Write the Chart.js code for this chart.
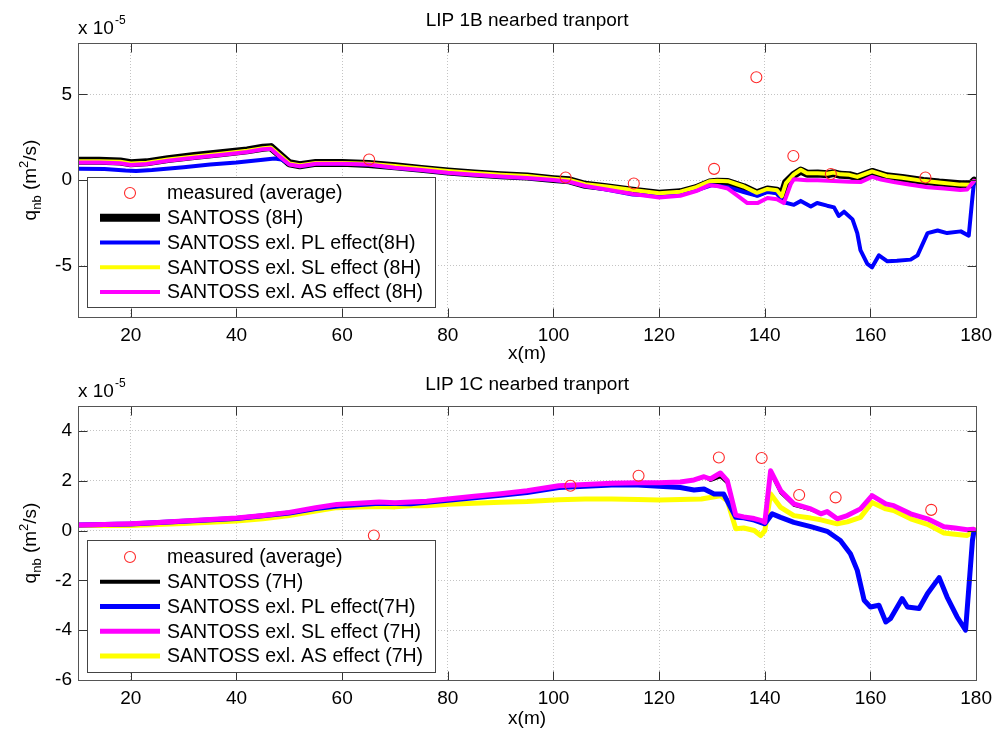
<!DOCTYPE html>
<html>
<head>
<meta charset="utf-8">
<script src="https://cdn.jsdelivr.net/npm/chart.js@4.4.1/dist/chart.umd.min.js"></script>
<style>
  html, body { margin: 0; padding: 0; background: #fff; }
  canvas { position: absolute; left: 0; }
  #lip1b { top: 0; }
  #lip1c { top: 366px; }
</style>
</head>
<body>
<canvas id="lip1b" width="999" height="366"></canvas>
<canvas id="lip1c" width="999" height="367"></canvas>
<script>
// x positions (m) and nearbed transport (x 1e-5 m2/s)
const xTicks = [20, 40, 60, 80, 100, 120, 140, 160, 180];
const yTicks1B = [-5, 0, 5];
const yTicks1C = [-6, -4, -2, 0, 2, 4];

// ---- LIP 1B ----
const meas1BX = [65.1, 102.3, 115.2, 130.4, 138.4, 145.4, 152.5, 170.4];
const meas1BY = [1.2, 0.15, -0.2, 0.65, 6.0, 1.4, 0.35, 0.15];

const full1BX = [10, 14, 18, 20, 23, 27, 32, 37, 42, 45, 46.5, 48, 50, 52, 55, 60, 65, 70, 75, 80,
  85, 90, 95, 100, 103, 106, 110, 115, 120, 124, 127, 129.5, 131, 133, 136, 138.5, 140.5, 142.3, 143.2, 144,
  145.5, 146.8, 148, 150, 151.8, 153, 154.3, 156, 157.5, 160.3, 163, 166, 170, 173, 177, 179, 179.6];
const full1BY = [1.12, 1.12, 1.08, 0.98, 1.03, 1.22, 1.4, 1.56, 1.73, 1.88, 1.92, 1.52, 0.98, 0.86, 1.0, 1.0, 0.94, 0.8, 0.65, 0.5,
  0.38, 0.28, 0.2, 0.05, -0.02, -0.28, -0.42, -0.62, -0.8, -0.72, -0.48, -0.15, -0.1, -0.12, -0.42, -0.78, -0.55, -0.62, -0.95, -0.15,
  0.3, 0.55, 0.37, 0.38, 0.33, 0.4, 0.3, 0.28, 0.15, 0.47, 0.22, 0.12, -0.05, -0.15, -0.25, -0.25, -0.05];
const noSL1BY = [1.1, 1.1, 1.06, 0.96, 1.01, 1.2, 1.38, 1.54, 1.71, 1.86, 1.9, 1.5, 0.97, 0.86, 1.0, 1.0, 0.95, 0.82, 0.67, 0.53,
  0.41, 0.31, 0.23, 0.08, 0.0, -0.25, -0.38, -0.58, -0.78, -0.68, -0.42, -0.08, -0.05, -0.07, -0.38, -0.75, -0.52, -0.6, -0.95, -0.18,
  0.33, 0.6, 0.4, 0.4, 0.36, 0.43, 0.33, 0.3, 0.18, 0.5, 0.24, 0.13, -0.05, -0.15, -0.27, -0.28, -0.05];

const noPL1BX = [10, 15, 19, 21, 24, 30, 35, 40, 45, 47.2, 48.5, 50, 52, 55, 60, 65, 70, 75, 80, 85,
  90, 95, 100, 103, 106, 110, 115, 120, 124, 127, 130, 133, 136, 138.6, 140.5, 142.3, 143.6, 145.5, 146.8, 148.7,
  149.9, 151.8, 153.1, 154, 155, 156.6, 157.5, 158.1, 159.4, 160.3, 161.6, 163.2, 165, 167.6, 168.9, 170.8, 172.7, 174.5, 177.1, 178.6,
  179.3, 179.6];
const noPL1BY = [0.66, 0.64, 0.55, 0.52, 0.58, 0.75, 0.9, 1.02, 1.18, 1.25, 1.2, 0.93, 0.8, 0.95, 0.95, 0.9, 0.72, 0.58, 0.43, 0.3,
  0.2, 0.12, 0.0, -0.1, -0.35, -0.55, -0.85, -0.92, -0.82, -0.6, -0.3, -0.42, -0.7, -0.92, -0.7, -0.78, -1.3, -1.45, -1.22, -1.55,
  -1.34, -1.5, -1.6, -2.1, -1.85, -2.3, -3.1, -4.1, -4.9, -5.1, -4.4, -4.75, -4.72, -4.65, -4.4, -3.1, -2.95, -3.1, -3.0, -3.25,
  -1.0, -0.1];

const noAS1BX = [10, 14, 18, 20, 23, 27, 32, 37, 42, 45, 46.5, 48, 50, 52, 55, 60, 65, 70, 75, 80,
  85, 90, 95, 100, 103, 106, 110, 115, 120, 124, 127, 129.5, 131, 133, 135, 136.7, 138.6, 140.5, 142.3, 143.6,
  144.9, 145.5, 148, 150, 152, 154, 156, 158.1, 160.3, 162, 164.4, 167, 170.8, 174, 177, 178.3, 179.6];
const noAS1BY = [1.02, 1.02, 0.98, 0.88, 0.94, 1.12, 1.3, 1.46, 1.64, 1.8, 1.82, 1.42, 0.9, 0.8, 0.95, 0.95, 0.9, 0.72, 0.58, 0.42,
  0.3, 0.2, 0.12, 0.0, -0.1, -0.35, -0.55, -0.82, -1.02, -0.92, -0.65, -0.3, -0.35, -0.5, -0.95, -1.35, -1.35, -1.05, -1.12, -1.35,
  -0.25, 0.05, -0.02, -0.02, -0.05, -0.08, -0.1, -0.12, 0.18, 0.03, -0.12, -0.25, -0.42, -0.5, -0.58, -0.55, -0.05];

// ---- LIP 1C ----
const meas1CX = [66, 103.2, 116.1, 131.3, 139.4, 146.5, 153.4, 171.5];
const meas1CY = [-0.2, 1.8, 2.2, 2.93, 2.91, 1.43, 1.33, 0.83];

const full1CX = [10, 15, 20, 25, 30, 35, 40, 45, 50, 55, 59, 63, 67, 70, 73, 76, 80, 85, 90, 95,
  101, 106, 111, 116, 120, 124, 126.6, 128.5, 129.7, 131.6, 132.9, 134.5, 136, 138, 139.4, 140, 141.1, 143, 145.5, 148.7,
  150.6, 151.8, 153.7, 155.6, 158.1, 160.3, 162.9, 164.4, 167.6, 170.8, 173.9, 176, 178.3, 179.5];
const full1CY = [0.22, 0.24, 0.27, 0.32, 0.38, 0.44, 0.5, 0.6, 0.73, 0.92, 1.05, 1.1, 1.15, 1.12, 1.15, 1.18, 1.27, 1.38, 1.48, 1.6,
  1.8, 1.85, 1.9, 1.92, 1.92, 1.95, 2.03, 2.16, 2.0, 2.15, 1.9, 0.62, 0.55, 0.48, 0.4, 0.33, 2.3, 1.5, 1.0, 0.82,
  0.67, 0.76, 0.47, 0.6, 0.87, 1.4, 1.07, 1.0, 0.67, 0.47, 0.15, 0.1, 0.03, 0.05];
const noSL1CY = [0.22, 0.24, 0.27, 0.32, 0.38, 0.44, 0.5, 0.6, 0.73, 0.92, 1.05, 1.1, 1.15, 1.12, 1.15, 1.18, 1.27, 1.38, 1.48, 1.6,
  1.8, 1.85, 1.9, 1.92, 1.92, 1.95, 2.03, 2.16, 2.07, 2.31, 2.0, 0.62, 0.55, 0.48, 0.4, 0.33, 2.4, 1.6, 1.07, 0.87,
  0.67, 0.76, 0.47, 0.6, 0.87, 1.4, 1.07, 1.0, 0.67, 0.47, 0.15, 0.1, 0.03, 0.05];

const noPL1CX = [10, 20, 30, 40, 50, 55, 60, 67, 73, 80, 85, 90, 95, 101, 106, 111, 116, 120, 124, 126.6,
  128.5, 130.4, 132.2, 134.5, 136, 138, 139.2, 140, 141.4, 143, 145.5, 148.7, 151.8, 154.3, 156.2, 157.5, 158.8, 160, 161.6, 162.9,
  163.8, 166, 167, 169.2, 170.8, 173, 174.5, 176.4, 178, 179.3, 179.6];
const noPL1CY = [0.22, 0.26, 0.37, 0.48, 0.7, 0.88, 1.0, 1.1, 1.08, 1.22, 1.32, 1.42, 1.53, 1.73, 1.78, 1.83, 1.83, 1.78, 1.73, 1.63,
  1.67, 1.47, 1.47, 0.53, 0.51, 0.42, 0.33, 0.27, 0.67, 0.53, 0.33, 0.16, -0.03, -0.4, -0.93, -1.6, -2.8, -3.07, -3.0, -3.67,
  -3.53, -2.73, -3.07, -3.13, -2.53, -1.89, -2.67, -3.47, -4.0, -0.4, 0.0];

const noAS1CX = [10, 15, 20, 25, 30, 35, 40, 45, 50, 55, 59, 63, 67, 70, 73, 76, 80, 85, 90, 95,
  101, 106, 111, 116, 120, 124, 128, 131.6, 132.9, 134.5, 136, 138, 139.2, 140, 141.1, 143, 145.5, 148.7, 150.6, 153.7,
  155.6, 158.1, 160.3, 162.9, 164.4, 167.6, 170.8, 173.9, 176, 178.3, 179.9];
const noAS1CY = [0.2, 0.2, 0.2, 0.24, 0.28, 0.33, 0.38, 0.47, 0.6, 0.78, 0.92, 0.95, 0.97, 0.95, 1.0, 1.0, 1.06, 1.1, 1.14, 1.17,
  1.24, 1.27, 1.27, 1.25, 1.23, 1.25, 1.27, 1.4, 1.2, 0.07, 0.1, 0.0, -0.2, 0.0, 1.47, 0.93, 0.6, 0.5, 0.43, 0.27,
  0.35, 0.53, 1.13, 0.87, 0.8, 0.47, 0.25, -0.1, -0.15, -0.2, 0.03];

const FONT = '"Liberation Sans", Arial, Helvetica, sans-serif';
Chart.defaults.font.family = FONT;
Chart.defaults.color = '#000';

const pts = (xs, ys) => xs.map((x, i) => ({ x: x, y: ys[i] }));

function lineSet(label, xs, ys, color, width, order) {
  return {
    label: label, data: pts(xs, ys), borderColor: color, backgroundColor: color,
    borderWidth: width, pointRadius: 0, tension: 0, order: order,
    borderJoinStyle: 'round', borderCapStyle: 'round'
  };
}

function markSet(label, xs, ys) {
  return {
    label: label, data: pts(xs, ys), showLine: false, order: 0,
    pointStyle: 'circle', pointRadius: 5.5, pointBorderWidth: 1.1,
    pointBorderColor: '#ff2a2a', pointBackgroundColor: 'rgba(0,0,0,0)', borderColor: '#ff2a2a'
  };
}

// inner ticks on all four sides, frame, boxed legend, exponent and y label
const matlabAxes = {
  id: 'matlabAxes',
  afterDatasetsDraw(chart) {
    const { ctx, chartArea: a, scales: { x, y } } = chart;
    const L = Math.round(a.left) + 0.5, R = Math.round(a.right) + 0.5;
    const T = Math.round(a.top) + 0.5, B = Math.round(a.bottom) + 0.5;
    ctx.save();
    ctx.strokeStyle = '#333';
    ctx.lineWidth = 1;
    ctx.beginPath();
    x.ticks.forEach(t => {
      const px = Math.round(x.getPixelForValue(t.value)) + 0.5;
      ctx.moveTo(px, T); ctx.lineTo(px, T + 9);
      ctx.moveTo(px, B); ctx.lineTo(px, B - 9);
    });
    y.ticks.forEach(t => {
      const py = Math.round(y.getPixelForValue(t.value)) + 0.5;
      ctx.moveTo(L, py); ctx.lineTo(L + 9, py);
      ctx.moveTo(R, py); ctx.lineTo(R - 9, py);
    });
    ctx.stroke();
    ctx.strokeStyle = '#555';
    ctx.strokeRect(L, T, R - L, B - T);
    ctx.restore();
  },
  afterDraw(chart, args, opts) {
    const { ctx, chartArea: a } = chart;
    ctx.save();

    // legend box
    const lg = opts.legend;
    ctx.fillStyle = '#fff';
    ctx.fillRect(lg.x, lg.y, lg.w, lg.h);
    ctx.strokeStyle = '#444';
    ctx.lineWidth = 1;
    ctx.strokeRect(lg.x + 0.5, lg.y + 0.5, lg.w, lg.h);
    ctx.font = '19.5px ' + FONT;
    ctx.textBaseline = 'middle';
    ctx.textAlign = 'left';
    chart.data.datasets.forEach((ds, i) => {
      const cy = lg.y + lg.first + i * lg.step;
      if (ds.showLine === false) {
        ctx.strokeStyle = ds.pointBorderColor;
        ctx.lineWidth = 1.1;
        ctx.beginPath();
        ctx.arc(lg.x + 43, cy, 5.5, 0, Math.PI * 2);
        ctx.stroke();
      } else {
        ctx.strokeStyle = ds.borderColor;
        ctx.lineWidth = ds.legendWidth || ds.borderWidth;
        ctx.lineCap = 'butt';
        ctx.beginPath();
        ctx.moveTo(lg.x + 13, cy);
        ctx.lineTo(lg.x + 73, cy);
        ctx.stroke();
      }
      ctx.fillStyle = '#000';
      ctx.fillText(ds.label, lg.x + 80, cy + 1);
    });

    // x 10^-5 above the y axis
    ctx.fillStyle = '#000';
    ctx.textBaseline = 'alphabetic';
    ctx.font = '19px ' + FONT;
    ctx.fillText('x 10', a.left, a.top - 9);
    const w = ctx.measureText('x 10').width;
    ctx.font = '12px ' + FONT;
    ctx.fillText('-5', a.left + w + 1, a.top - 19);

    // q_nb (m^2/s), rotated
    const parts = [['q', 19, 0], ['nb', 13, 5], [' (m', 19, 0], ['2', 13, -8], ['/s)', 19, 0]];
    let total = 0;
    parts.forEach(p => { ctx.font = p[1] + 'px ' + FONT; total += ctx.measureText(p[0]).width; });
    ctx.translate(36, (a.top + a.bottom) / 2);
    ctx.rotate(-Math.PI / 2);
    let cx = -total / 2;
    parts.forEach(p => {
      ctx.font = p[1] + 'px ' + FONT;
      ctx.fillText(p[0], cx, p[2]);
      cx += ctx.measureText(p[0]).width;
    });
    ctx.restore();
  }
};

function makeChart(id, cfg) {
  const canvas = document.getElementById(id);
  const H = canvas.height;
  return new Chart(canvas, {
    type: 'line',
    data: { datasets: cfg.datasets },
    options: {
      responsive: false,
      animation: false,
      devicePixelRatio: 1,
      layout: { padding: { left: 0, right: 20, top: 0, bottom: 0 } },
      plugins: {
        legend: { display: false },
        tooltip: { enabled: false },
        title: {
          display: true, text: cfg.title, fullSize: false, color: '#000',
          font: { size: 19, weight: 'normal' }, padding: cfg.titlePad
        },
        matlabAxes: { legend: cfg.legend }
      },
      scales: {
        x: {
          type: 'linear', min: 10, max: 180,
          afterBuildTicks: s => { s.ticks = xTicks.map(v => ({ value: v })); },
          afterFit: s => { s.height = H - cfg.plotBottom; },
          grid: { color: '#c4c4c4', lineWidth: 1, drawTicks: false },
          border: { display: false, dash: [1, 2] },
          ticks: { padding: 7, font: { size: 19 }, maxRotation: 0, autoSkip: false, color: '#000' },
          title: { display: true, text: 'x(m)', font: { size: 19 }, padding: { top: 0, bottom: cfg.xTitlePad } }
        },
        y: {
          type: 'linear', min: cfg.yMin, max: cfg.yMax,
          afterBuildTicks: s => { s.ticks = cfg.yTicks.map(v => ({ value: v })); },
          afterFit: s => { s.width = 78; },
          grid: { color: '#c4c4c4', lineWidth: 1, drawTicks: false },
          border: { display: false, dash: [1, 2] },
          ticks: { padding: 6, font: { size: 19 }, color: '#000' }
        }
      }
    },
    plugins: [matlabAxes]
  });
}

makeChart('lip1b', {
  title: 'LIP 1B nearbed tranport',
  titlePad: { top: 9.4, bottom: 10.8 },
  plotBottom: 317,
  xTitlePad: 1,
  yMin: -8, yMax: 8, yTicks: yTicks1B,
  legend: { x: 87, y: 177, w: 348, h: 130, first: 16, step: 24.75 },
  datasets: [
    markSet('measured (average)', meas1BX, meas1BY),
    lineSet('SANTOSS (8H)', full1BX, full1BY, '#000000', 8, 4),
    lineSet('SANTOSS exl. PL effect(8H)', noPL1BX, noPL1BY, '#0000ff', 4, 3),
    lineSet('SANTOSS exl. SL effect (8H)', full1BX, noSL1BY, '#ffff00', 4, 2),
    lineSet('SANTOSS exl. AS effect (8H)', noAS1BX, noAS1BY, '#ff00ff', 4, 1)
  ]
});

const full1C = lineSet('SANTOSS (7H)', full1CX, full1CY, '#000000', 2.5, 4);
full1C.legendWidth = 4;
makeChart('lip1c', {
  title: 'LIP 1C nearbed tranport',
  titlePad: { top: 7.4, bottom: 9.8 },
  plotBottom: 314,
  xTitlePad: 3,
  yMin: -6, yMax: 5, yTicks: yTicks1C,
  legend: { x: 87, y: 174, w: 348, h: 132, first: 17, step: 24.75 },
  datasets: [
    markSet('measured (average)', meas1CX, meas1CY),
    full1C,
    lineSet('SANTOSS exl. PL effect(7H)', noPL1CX, noPL1CY, '#0000ff', 5, 2),
    lineSet('SANTOSS exl. SL effect (7H)', full1CX, noSL1CY, '#ff00ff', 5, 1),
    lineSet('SANTOSS exl. AS effect (7H)', noAS1CX, noAS1CY, '#ffff00', 5, 3)
  ]
});
</script>
</body>
</html>
